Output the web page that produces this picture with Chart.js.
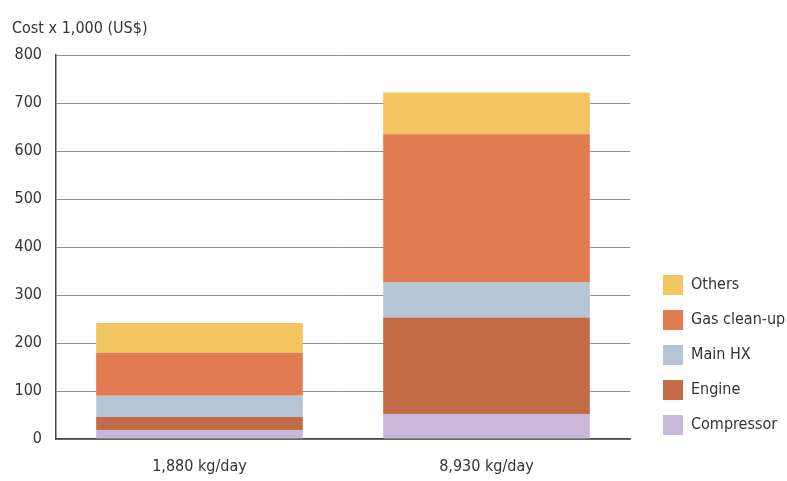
<!DOCTYPE html>
<html>
<head>
<meta charset="utf-8">
<script src="https://cdn.jsdelivr.net/npm/chart.js@4"></script>
<style>
  body { margin: 0; background: #fff; }
</style>
</head>
<body>
<canvas id="costChart" width="787" height="481"></canvas>
<script>
const categories = ['1,880 kg/day', '8,930 kg/day'];
const compressor = [18, 52];
const engine = [28, 201];
const mainHX = [44, 73];
const gasCleanup = [90, 309];
const others = [62, 87];
const yTicks = [0, 100, 200, 300, 400, 500, 600, 700, 800];

const fontFamily = "'DejaVu Sans Condensed', 'DejaVu Sans', sans-serif";

// legend sits a bit away from the plot and ends near the x axis, like the original
const legendGap = {
    id: 'legendGap',
    afterInit(chart) {
        const legend = chart.legend;
        const fit = legend.fit;
        legend.fit = function () {
            fit.call(this);
            this.width = 157;
        };
    },
    afterLayout(chart) {
        chart.legend.left += 18;
        chart.legend.bottom = chart.chartArea.bottom + 11;
    }
};

const ctx = document.getElementById('costChart').getContext('2d');
const costChart = new Chart(ctx, {
    type: 'bar',
    data: {
        labels: categories,
        datasets: [
            { label: 'Compressor', data: compressor, backgroundColor: '#c8b7d8' },
            { label: 'Engine', data: engine, backgroundColor: '#c36b47' },
            { label: 'Main HX', data: mainHX, backgroundColor: '#b6c5d6' },
            { label: 'Gas clean-up', data: gasCleanup, backgroundColor: '#e27b4f' },
            { label: 'Others', data: others, backgroundColor: '#f3c561' }
        ]
    },
    plugins: [legendGap],
    options: {
        responsive: false,
        animation: false,
        layout: { padding: { left: 12, right: 0, top: 19, bottom: 3 } },
        datasets: {
            bar: { categoryPercentage: 0.8, barPercentage: 0.9, borderWidth: 0 }
        },
        scales: {
            x: {
                stacked: true,
                grid: { display: false },
                border: { color: '#444', width: 1.5 },
                ticks: { color: '#333', font: { family: fontFamily, size: 16 }, padding: 10 },
                afterFit: (scale) => { scale.height = 39; }
            },
            y: {
                stacked: true,
                min: 0,
                max: 800,
                afterBuildTicks: (axis) => { axis.ticks = yTicks.map(v => ({ value: v })); },
                grid: { color: '#8c8c8c', lineWidth: 1, drawTicks: false },
                border: { color: '#444', width: 1.5 },
                ticks: { color: '#333', font: { family: fontFamily, size: 16 }, padding: 14 },
                afterFit: (scale) => { scale.width = 44; }
            }
        },
        plugins: {
            title: {
                display: true,
                text: 'Cost x 1,000 (US$)',
                align: 'start',
                color: '#333',
                font: { family: fontFamily, size: 16, weight: 'normal' },
                padding: { top: 0, bottom: 17 }
            },
            legend: {
                position: 'right',
                align: 'end',
                reverse: true,
                labels: {
                    color: '#333',
                    font: { family: fontFamily, size: 16 },
                    boxWidth: 20,
                    boxHeight: 20,
                    padding: 15
                }
            },
            tooltip: { enabled: false }
        }
    }
});
</script>
</body>
</html>
